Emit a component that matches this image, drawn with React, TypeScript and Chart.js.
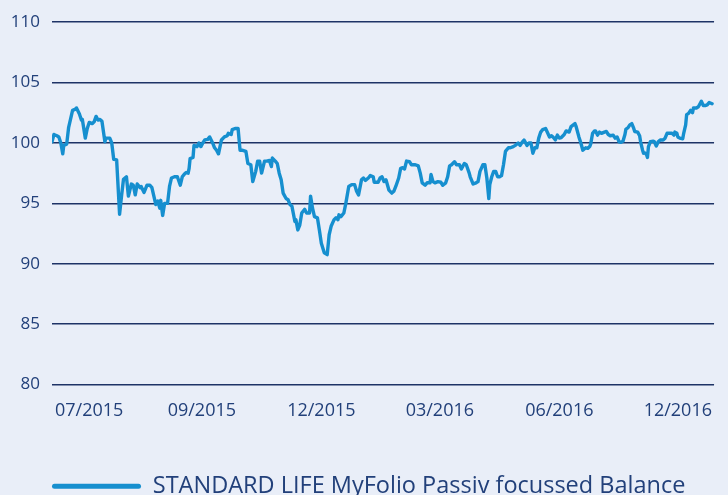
import React, { useEffect, useRef } from "react";
import { Chart, registerables } from "chart.js";

Chart.register(...registerables);

// Sample position along the period (index of the observation) and fund value (rebased to 100)
const sampleIndex = [
  0, 2, 5, 7, 9, 11, 12, 15, 17, 21, 24, 25, 28, 30, 31, 34, 36, 38, 41, 43, 45, 47, 49, 51, 54, 55, 59, 61, 63, 66,
  69, 71, 73, 76, 78, 81, 83, 85, 87, 90, 91, 94, 97, 100, 102, 104, 106, 108, 110, 111, 113, 115, 118, 120, 122, 125,
  128, 131, 133, 135, 137, 139, 140, 141, 144, 145, 146, 148, 150, 152, 154, 156, 159, 161, 164, 166, 168, 170, 173,
  176, 179, 180, 183, 184, 187, 190, 192, 194, 198, 200, 203, 205, 208, 210, 212, 214, 217, 219, 222, 224, 225, 228,
  230, 232, 234, 236, 239, 241, 243, 245, 248, 249, 251, 253, 255, 258, 260, 263, 264, 266, 268, 271, 273, 275, 278,
  281, 283, 285, 288, 290, 292, 293, 295, 298, 300, 303, 306, 309, 311, 313, 316, 318, 320, 323, 325, 328, 329, 333,
  335, 337, 339, 341, 344, 347, 349, 351, 354, 356, 358, 360, 362, 365, 367, 371, 374, 376, 378, 381, 383, 386, 387,
  389, 391, 394, 397, 399, 402, 404, 406, 408, 411, 413, 416, 418, 421, 423, 426, 427, 430, 433, 435, 437, 440, 442,
  444, 446, 447, 449, 451, 453, 455, 457, 459, 461, 463, 466, 468, 471, 473, 476, 478, 480, 482, 485, 487, 489, 491,
  493, 495, 497, 499, 501, 504, 508, 510, 512, 514, 516, 518, 520, 523, 525, 528, 530, 534, 535, 538, 540, 542, 545,
  547, 549, 550, 552, 554, 555, 557, 559, 561, 564, 566, 568, 570, 573, 575, 577, 579, 581, 583, 585, 586, 588, 590,
  592, 594, 595, 598, 600, 601, 603, 604, 605, 607, 608, 609, 611, 614, 615, 617, 619, 621, 624, 626, 628, 630, 633,
  635, 636, 638, 639, 641, 644, 645, 647, 648, 650, 652, 654, 655, 658, 660, 663, 665, 667, 669, 671, 674,
];

const fundValues = [
  100.1, 100.7, 100.6, 100.5, 100.0, 99.1, 99.8, 99.9, 101.3, 102.7, 102.8, 102.9, 102.4, 101.9, 101.95, 100.4, 101.2,
  101.7, 101.6, 101.75, 102.2, 101.9, 101.95, 101.8, 100.1, 100.4, 100.4, 100.0, 98.65, 98.6,
  94.1, 95.6, 97.0, 97.2, 95.6, 96.6, 96.5, 95.7, 96.6, 96.3, 96.4, 95.9, 96.5, 96.5, 96.3, 95.6, 94.9, 95.2, 94.6,
  95.25, 94.0, 95.0, 95.0, 96.4, 97.1, 97.2,
  97.2, 96.5, 97.2, 97.4, 97.55, 97.5, 97.9, 98.7, 98.8, 99.8, 99.8, 99.7, 100.0, 99.7, 100.0, 100.25, 100.3, 100.5,
  100.0, 99.6, 99.4, 99.1, 100.25,
  100.5, 100.6, 100.8, 100.7, 101.1, 101.2, 101.2, 99.4, 99.4, 99.3, 98.3, 98.2, 96.8, 97.65, 98.5, 98.5, 97.5, 98.5,
  98.5, 98.55, 98.05, 98.75, 98.5,
  98.3, 97.5, 96.95, 95.85, 95.4, 95.3, 94.9, 94.75, 93.5, 93.65, 92.8, 93.2, 94.2, 94.5, 94.2, 94.2, 95.6, 94.6,
  93.9, 93.8, 92.8, 91.7, 90.9,
  90.75, 92.4, 93.1, 93.65, 93.8, 93.65, 94.05, 93.9, 94.2, 95.0, 96.4, 96.55, 96.55, 96.0, 95.7, 96.95, 97.1, 96.9,
  97.1, 97.3, 97.2, 96.75, 96.75,
  97.1, 97.2, 96.8, 96.95, 96.1, 95.85, 96.0, 96.4, 97.1, 97.9, 97.95, 97.85, 98.5, 98.45, 98.2, 98.2, 98.1, 97.5,
  96.7, 96.5, 96.7, 96.7, 97.4,
  96.8, 96.7, 96.8, 96.75, 96.5, 96.7, 97.2, 98.1, 98.2, 98.45, 98.2, 98.2, 97.85, 98.3, 98.2, 97.5, 97.2, 96.6,
  96.7, 96.8, 97.65, 98.2, 98.2,
  97.1, 95.4, 96.55, 97.2, 97.65, 97.65, 97.2, 97.2, 97.3, 98.2, 99.3, 99.6, 99.6, 99.7, 99.8, 100.0, 99.8, 100.05,
  100.25, 99.8, 100.0, 100.0, 99.15,
  99.6, 99.6, 100.4, 100.9, 101.1, 101.2, 100.5, 100.6, 100.45, 100.25, 100.65, 100.4, 100.45, 100.7, 101.0, 100.9,
  101.35, 101.6, 101.4, 100.5, 100.0, 99.4, 99.6,
  99.55, 99.7, 99.9, 100.8, 101.0, 101.0, 100.65, 100.9, 100.8, 100.9, 100.95, 100.7, 100.6, 100.65, 100.4, 100.5,
  100.1, 100.05, 100.15, 100.7, 101.15, 101.25, 101.5,
  101.6, 101.2, 100.95, 100.9, 100.6, 100.1, 99.4, 99.15, 99.2, 99.05, 98.8, 99.7, 100.1, 100.15, 100.1, 99.75, 100.1,
  100.25, 100.25, 100.4, 100.8, 100.8, 100.8,
  100.65, 100.9, 100.8, 100.5, 100.4, 100.35, 100.8, 101.5, 102.35, 102.45, 102.7, 102.5, 102.9, 102.9, 103.0, 103.45,
  103.1, 103.1, 103.15, 103.35, 103.25,
];

const tickIndex = [38, 153, 275, 396, 518, 639];
const tickLabels = ["07/2015", "09/2015", "12/2015", "03/2016", "06/2016", "12/2016"];
const yTicks = [80, 85, 90, 95, 100, 105, 110];
const seriesName = "STANDARD LIFE MyFolio Passiv focussed Balance";

const BG = "#e9eef8";
const TEXT = "#22407a";
const GRID = "#1e3366";
const LINE = "#168fcf";
const FONT = "'Open Sans', sans-serif";

export default function App() {
  const ref = useRef<HTMLCanvasElement | null>(null);

  useEffect(() => {
    const canvas = ref.current;
    if (!canvas) return;
    const points = sampleIndex.map((x, i) => ({ x, y: fundValues[i] }));
    const chart = new Chart(canvas, {
      type: "line",
      data: {
        datasets: [
          {
            label: seriesName,
            data: points,
            borderColor: LINE,
            backgroundColor: LINE,
            borderWidth: 3.4,
            borderJoinStyle: "round",
            borderCapStyle: "round",
            pointRadius: 0,
            tension: 0,
          },
        ],
      },
      options: {
        animation: false,
        responsive: false,
        devicePixelRatio: 1,
        layout: { padding: { top: 20, left: 0, right: 0, bottom: 0 } },
        plugins: {
          tooltip: { enabled: false },
          legend: {
            position: "bottom",
            align: "start",
            labels: {
              boxWidth: 89,
              boxHeight: 5,
              padding: 52,
              color: TEXT,
              font: { family: FONT, size: 23.5 },
              useBorderRadius: true,
              borderRadius: 2.5,
              generateLabels: (c: any) =>
                Chart.defaults.plugins.legend.labels.generateLabels(c).map((l: any) => ({
                  ...l,
                  lineWidth: 0,
                  fillStyle: LINE,
                  strokeStyle: LINE,
                })),
            },
          },
        },
        scales: {
          x: {
            type: "linear",
            min: 0,
            max: 676,
            grid: { display: false, drawTicks: false },
            border: { display: false },
            afterBuildTicks: (scale: any) => {
              scale.ticks = tickIndex.map((v) => ({ value: v }));
            },
            afterFit: (scale: any) => {
              scale.height = 38;
            },
            ticks: {
              autoSkip: false,
              maxRotation: 0,
              padding: 16,
              color: TEXT,
              font: { family: FONT, size: 18 },
              callback: (v: any) => {
                const i = tickIndex.indexOf(Number(v));
                return i >= 0 ? tickLabels[i] : "";
              },
            },
          },
          y: {
            min: 80,
            max: 110,
            grid: { color: GRID, lineWidth: 1.5, drawTicks: false },
            border: { display: false },
            afterBuildTicks: (scale: any) => {
              scale.ticks = yTicks.map((v) => ({ value: v }));
            },
            afterFit: (scale: any) => {
              scale.width = 52;
            },
            ticks: {
              padding: 12,
              color: TEXT,
              font: { family: FONT, size: 17 },
            },
          },
        },
      },
      plugins: [
        {
          id: "bg",
          beforeDraw: (c: any) => {
            const ctx = c.ctx;
            ctx.save();
            ctx.fillStyle = BG;
            ctx.fillRect(0, 0, c.width, c.height);
            ctx.restore();
          },
        },
      ],
    } as any);
    return () => chart.destroy();
  }, []);

  return (
    <div
      style={{
        position: "absolute",
        left: 0,
        top: 0,
        width: 728,
        height: 495,
        overflow: "hidden",
        background: BG,
      }}
    >
      <canvas ref={ref} width={728} height={508} style={{ display: "block", width: 728, height: 508 }} />
    </div>
  );
}
